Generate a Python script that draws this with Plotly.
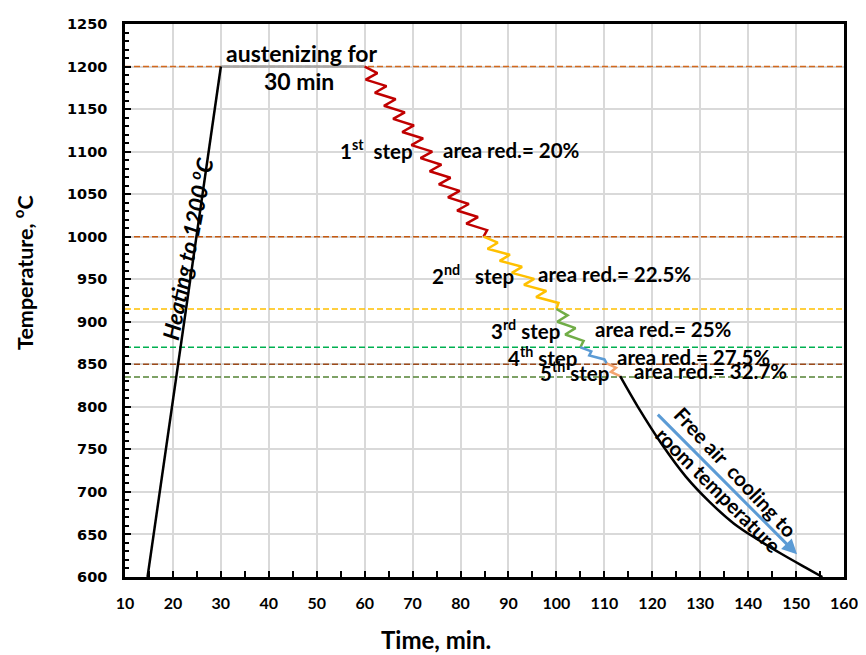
import plotly.graph_objects as go

# ---------------- data ----------------
# heating ramp
heat_time = [14.7, 30.0]
heat_temp = [600, 1200]
# austenizing hold
hold_time = [30.0, 60.0]
hold_temp = [1200, 1200]
# deformation steps
step_labels = ["1<sup>st</sup>\u00a0\u00a0step", "2<sup>nd</sup>\u00a0\u00a0\u00a0step",
               "3<sup>rd</sup> step", "4<sup>th</sup> step", "5<sup>th</sup> step"]
step_start_time = [60.0, 84.8, 100.0, 105.0, 110.5]
step_end_time = [84.8, 100.0, 105.0, 110.5, 113.3]
step_start_temp = [1200, 1000, 915, 870, 851]
step_end_temp = [1000, 915, 870, 851, 836]
step_area_red = ["20%", "22.5%", "25%", "27.5%", "32.7%"]
step_colors = ["#C00000", "#FFC000", "#70AD47", "#5B9BD5", "#F4A46E"]
step_half_cycles = [26, 12, 6, 4, 3]
step_amp = [1.7, 1.7, 1.5, 0.9, 1.0]
# label positions (time, temp)
step_label_time = [62.4, 82.5, 93.6, 97.1, 103.7]
step_red_time = [90.7, 112.2, 122.4, 128.7, 132.2]
step_label_temp = [1102, 956, 891, 859, 842]
# free air cooling
cool_time = [113.3, 117.0, 122.0, 127.0, 132.0, 137.0, 142.0, 147.0, 152.0, 155.5]
cool_temp = [836, 800, 756, 718, 688, 663, 644, 627, 611, 600]
# reference temperature lines
ref_temp = [1200, 1000, 915, 870, 850, 835]
ref_colors = ["#D2691E", "#C55A11", "#FFC000", "#00B050", "#9C4A1A", "#548235"]

x_ticks = list(range(10, 161, 10))
y_ticks = list(range(600, 1251, 50))

FONT = "Lato"
fig = go.Figure()

# reference dashed lines
for t, c in zip(ref_temp, ref_colors):
    fig.add_trace(go.Scatter(x=[10, 160], y=[t, t], mode="lines",
                             line=dict(color=c, width=1.6, dash="6px,3px"),
                             hoverinfo="skip", showlegend=False))

fig.add_trace(go.Scatter(x=hold_time, y=hold_temp, mode="lines",
                         line=dict(color="#A6A6A6", width=2.5), showlegend=False))
fig.add_trace(go.Scatter(x=heat_time, y=heat_temp, mode="lines",
                         line=dict(color="black", width=2.5), showlegend=False))


def zigzag(t0, t1, y0, y1, n, a):
    """Decorative zig-zag drawn along the straight segment of a rolling step."""
    xs, ys = [], []
    for k in range(n + 1):
        f = k / n
        off = 0 if k in (0, n) else (a if k % 2 else -a)
        xs.append(t0 + f * (t1 - t0) + off)
        ys.append(y0 + f * (y1 - y0))
    return xs, ys


for i in range(len(step_start_time)):
    zx, zy = zigzag(step_start_time[i], step_end_time[i], step_start_temp[i],
                    step_end_temp[i], step_half_cycles[i], step_amp[i])
    fig.add_trace(go.Scatter(x=zx, y=zy, mode="lines",
                             line=dict(color=step_colors[i], width=2.5),
                             showlegend=False))

fig.add_trace(go.Scatter(x=cool_time, y=cool_temp, mode="lines",
                         line=dict(color="black", width=2.5, shape="spline", smoothing=1.0),
                         showlegend=False))

ann_font = dict(family=FONT, size=20.5, color="black", weight="bold")
big_font = dict(family=FONT, size=23, color="black", weight="bold")
annotations = []
for i in range(len(step_labels)):
    annotations.append(dict(x=step_label_time[i], y=step_label_temp[i], text=step_labels[i],
                            showarrow=False, font=ann_font))
    annotations.append(dict(x=step_red_time[i], y=step_label_temp[i],
                            text="area red.= " + step_area_red[i],
                            showarrow=False, font=ann_font))

annotations += [
    dict(x=47.0, y=1216, text="austenizing for", showarrow=False, font=big_font),
    dict(x=46.3, y=1183, text="30 min", showarrow=False, font=big_font),
    dict(x=22.6, y=986, text="Heating to 1200 <sup>o</sup>C", showarrow=False, textangle=-79,
         font=dict(family=FONT, size=22.5, color="black", weight="bold", style="italic")),
    dict(x=137.4, y=724, text="Free air\u00a0\u00a0cooling to", showarrow=False, textangle=47,
         font=ann_font),
    dict(x=133.8, y=702, text="room temperature", showarrow=False, textangle=45,
         font=ann_font),
    dict(x=150.2, y=626.6, ax=120.85, ay=792.6, axref="x", ayref="y", xref="x", yref="y",
         text="", showarrow=True, arrowhead=2, arrowsize=1, arrowwidth=3,
         arrowcolor="#5B9BD5"),
    dict(x=0.433, y=-0.1123, xref="paper", yref="paper", xanchor="center", yanchor="middle",
         text="Time, min.", showarrow=False,
         font=dict(family=FONT, size=24, color="black", weight="bold")),
    dict(x=-0.141, y=0.551, xref="paper", yref="paper", xanchor="center", yanchor="middle",
         text="Temperature, <sup>o</sup>C", showarrow=False, textangle=-90,
         font=dict(family=FONT, size=21.5, color="black", weight="bold")),
]

# the page body has an 8px margin, so the figure is 8px smaller and margins shifted
fig.update_layout(
    width=858, height=647,
    margin=dict(l=117, r=18, t=8, b=78),
    paper_bgcolor="white", plot_bgcolor="white",
    annotations=annotations,
    showlegend=False,
)
fig.update_xaxes(range=[10, 160], tickvals=x_ticks, ticktext=[str(v) for v in x_ticks],
                 showgrid=True, gridcolor="#D9D9D9", gridwidth=1.5,
                 showline=True, linecolor="black", linewidth=2.5, mirror=True,
                 ticks="inside", ticklen=6, tickwidth=1.5, tickcolor="black",
                 minor=dict(dtick=5, tick0=10, ticks="inside", ticklen=6, tickcolor="black",
                            showgrid=False),
                 ticklabelstandoff=10,
                 tickfont=dict(family=FONT, size=16, color="black", weight="bold"),
                 zeroline=False)
fig.update_yaxes(range=[600, 1250], tickvals=y_ticks, ticktext=[str(v) for v in y_ticks],
                 showgrid=True, gridcolor="#D9D9D9", gridwidth=1.5,
                 showline=True, linecolor="black", linewidth=2.5, mirror=True,
                 ticks="inside", ticklen=6, tickwidth=1.5, tickcolor="black",
                 minor=dict(dtick=10, tick0=600, ticks="inside", ticklen=4, tickcolor="black",
                            showgrid=False),
                 ticklabelstandoff=12,
                 tickfont=dict(family="DejaVu Sans", size=14.5, color="black", weight="bold"),
                 zeroline=False)

fig.write_html("out.html")
